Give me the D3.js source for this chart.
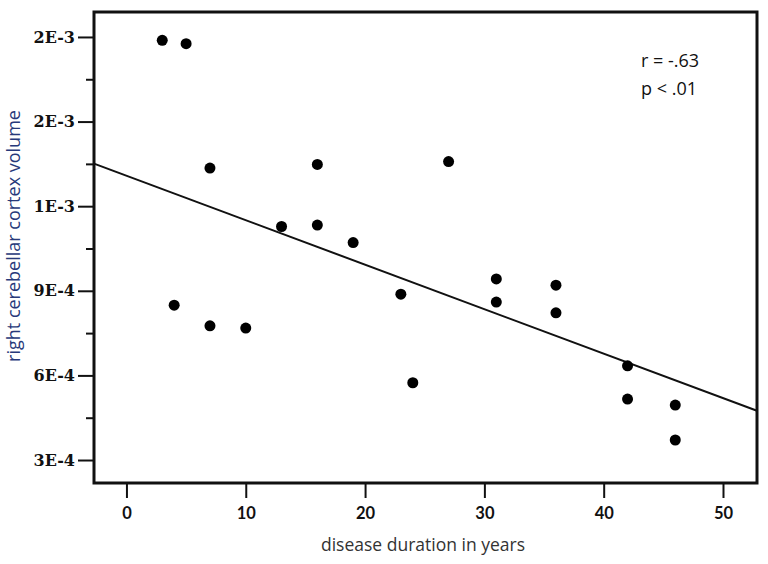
<!DOCTYPE html>
<html>
<head>
<meta charset="utf-8">
<script src="https://d3js.org/d3.v7.min.js"></script>
<style>
  body { margin: 0; background: #fff; }
  svg { display: block; }
</style>
</head>
<body>
<div id="chart"></div>
<script>

// disease duration (years) and right cerebellar cortex volume
var years = [3, 5, 7, 16, 27, 13, 16, 19, 23, 31, 31, 36, 36, 42, 42, 46, 46, 4, 7, 10, 24];
var volume = [1.788e-3, 1.776e-3, 1.335e-3, 1.348e-3, 1.358e-3, 1.128e-3, 1.133e-3, 1.071e-3,
              8.88e-4, 9.42e-4, 8.60e-4, 9.20e-4, 8.22e-4, 6.34e-4, 5.16e-4, 4.95e-4, 3.71e-4,
              8.49e-4, 7.76e-4, 7.68e-4, 5.74e-4];

// fitted line as drawn in the figure
var fitIntercept = 1.308e-3;
var fitSlope = -1.577e-5;

var xTicks = [0, 10, 20, 30, 40, 50];
var yTicks = [3e-4, 6e-4, 9e-4, 1.2e-3, 1.5e-3, 1.8e-3];
var yTickLabels = ["3E-4", "6E-4", "9E-4", "1E-3", "2E-3", "2E-3"];
var yMinorTicks = [4.5e-4, 7.5e-4, 1.05e-3, 1.35e-3, 1.65e-3];

var statLines = ["r = -.63", "p < .01"];

var W = 768, H = 564;
var plot = {x0: 94, x1: 757, y0: 12, y1: 483};

var svg = d3.select("#chart").append("svg")
    .attr("width", W)
    .attr("height", H);

var x = d3.scaleLinear()
    .domain([-2.72, 52.85])
    .range([plot.x0, plot.x1]);

var y = d3.scaleLinear()
    .domain([2.185e-4, 1.8885e-3])
    .range([plot.y1, plot.y0]);

// y axis: major ticks with labels, then minor ticks
var yAxis = svg.append("g")
    .attr("transform", "translate(" + plot.x0 + ",0)")
    .call(d3.axisLeft(y)
      .tickValues(yTicks)
      .tickSize(16)
      .tickPadding(3)
      .tickFormat(function(d, i) { return yTickLabels[i]; }));
yAxis.select(".domain").remove();
yAxis.selectAll(".tick line").attr("stroke", "#111").attr("stroke-width", 2);
yAxis.selectAll(".tick text")
    .attr("fill", "#111")
    .style("font-family", "'DejaVu Serif', serif")
    .style("font-weight", "bold")
    .style("font-size", "16px");

var yMinor = svg.append("g")
    .attr("transform", "translate(" + plot.x0 + ",0)")
    .call(d3.axisLeft(y).tickValues(yMinorTicks).tickSize(8).tickFormat(""));
yMinor.select(".domain").remove();
yMinor.selectAll(".tick line").attr("stroke", "#111").attr("stroke-width", 2);

// x axis
var xAxis = svg.append("g")
    .attr("transform", "translate(0," + plot.y1 + ")")
    .call(d3.axisBottom(x)
      .tickValues(xTicks)
      .tickSize(15)
      .tickPadding(9)
      .tickFormat(d3.format("d")));
xAxis.select(".domain").remove();
xAxis.selectAll(".tick line").attr("stroke", "#111").attr("stroke-width", 2);
xAxis.selectAll(".tick text")
    .attr("fill", "#111")
    .style("font-family", "Lato, sans-serif")
    .style("font-weight", "bold")
    .style("font-size", "16.5px");

// frame
svg.append("rect")
    .attr("x", plot.x0)
    .attr("y", plot.y0)
    .attr("width", plot.x1 - plot.x0)
    .attr("height", plot.y1 - plot.y0)
    .attr("fill", "none")
    .attr("stroke", "#111")
    .attr("stroke-width", 3);

// regression line
var xd = x.domain();
svg.append("line")
    .attr("x1", x(xd[0]))
    .attr("y1", y(fitIntercept + fitSlope * xd[0]))
    .attr("x2", x(xd[1]))
    .attr("y2", y(fitIntercept + fitSlope * xd[1]))
    .attr("stroke", "#111")
    .attr("stroke-width", 2);

// points
svg.selectAll("circle.pt")
  .data(years)
  .enter()
  .append("circle")
    .attr("class", "pt")
    .attr("cx", function(d) { return x(d); })
    .attr("cy", function(d, i) { return y(volume[i]); })
    .attr("r", 5.5)
    .attr("fill", "#000");

// stats text
svg.selectAll("text.stat")
  .data(statLines)
  .enter()
  .append("text")
    .attr("class", "stat")
    .attr("x", 641)
    .attr("y", function(d, i) { return 67 + i * 28; })
    .style("font-family", "'Open Sans', sans-serif")
    .style("font-size", "18px")
    .attr("fill", "#111")
    .text(function(d) { return d; });

// axis titles
svg.append("text")
    .attr("x", 423)
    .attr("y", 551)
    .attr("text-anchor", "middle")
    .style("font-family", "'Open Sans', sans-serif")
    .style("font-size", "17.5px")
    .attr("fill", "#333")
    .text("disease duration in years");

svg.append("text")
    .attr("transform", "translate(20,236) rotate(-90)")
    .attr("text-anchor", "middle")
    .style("font-family", "'Open Sans', sans-serif")
    .style("font-size", "18px")
    .attr("fill", "#27397a")
    .text("right cerebellar cortex volume");

</script>
</body>
</html>
